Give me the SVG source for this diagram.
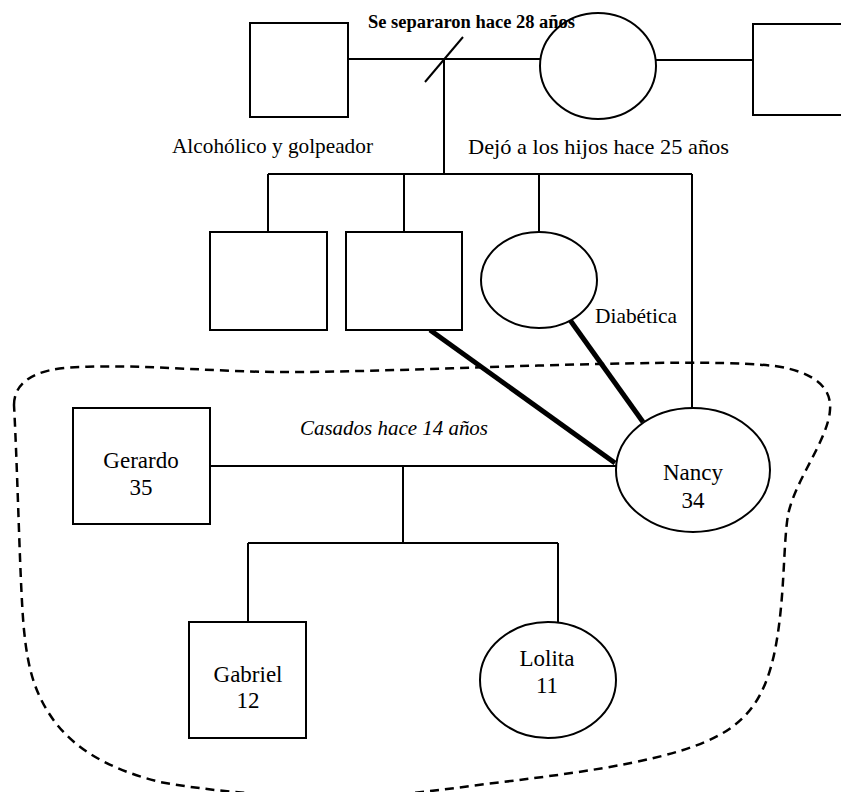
<svg xmlns="http://www.w3.org/2000/svg" width="841" height="792" viewBox="0 0 841 792">
<style>
  .shape { fill: #fff; stroke: #000; stroke-width: 2; }
  .line { fill: none; stroke: #000; stroke-width: 2; }
  .thick { fill: none; stroke: #000; stroke-width: 5; }
  .boundary { fill: none; stroke: #000; stroke-width: 2.5; stroke-dasharray: 9 6; }
  text { font-family: "Liberation Serif", "Times New Roman", serif; fill: #000; }
  .lbl { font-size: 21px; }
  .name { font-size: 23px; text-anchor: middle; }
</style>
<rect width="841" height="792" fill="#fff"/>

<g id="household">
  <path class="boundary" d="M 14 405 C 14 385, 30 368, 80 367 C 150 364, 220 373, 300 372 C 400 371, 500 366, 600 364 C 680 362, 740 362, 775 366 C 815 372, 832 388, 830 410 C 828 440, 795 480, 788 515 C 783 545, 785 600, 775 650 C 765 700, 745 725, 705 742 C 650 765, 560 775, 470 786 C 420 793, 370 798, 320 797 C 260 795, 210 791, 160 782 C 120 772, 80 755, 55 722 C 35 695, 28 670, 24 630 C 20 590, 18 480, 14 405 Z"/>
</g>

<g id="connectors">
  <line class="line" x1="348" y1="59" x2="541" y2="59"/>
  <line class="line" x1="425" y1="82" x2="463" y2="37"/>
  <line class="line" x1="656" y1="60" x2="753" y2="60"/>
  <line class="line" x1="444" y1="59" x2="444" y2="174"/>
  <line class="line" x1="268" y1="174" x2="692" y2="174"/>
  <line class="line" x1="268" y1="174" x2="268" y2="232"/>
  <line class="line" x1="404" y1="174" x2="404" y2="232"/>
  <line class="line" x1="539" y1="174" x2="539" y2="232"/>
  <line class="line" x1="692" y1="174" x2="692" y2="408"/>
  <line class="thick" x1="430" y1="330" x2="615" y2="463"/>
  <line class="thick" x1="570" y1="320" x2="643" y2="422"/>
  <line class="line" x1="210" y1="466" x2="616" y2="466"/>
  <line class="line" x1="403" y1="466" x2="403" y2="543"/>
  <line class="line" x1="248" y1="543" x2="558" y2="543"/>
  <line class="line" x1="248" y1="543" x2="248" y2="622"/>
  <line class="line" x1="558" y1="543" x2="558" y2="623"/>
</g>

<g id="grandfather">
  <rect class="shape" x="250" y="23" width="98" height="94"/>
</g>
<g id="grandmother">
  <ellipse class="shape" cx="598" cy="66" rx="58" ry="53"/>
</g>
<g id="grandmother-partner">
  <rect class="shape" x="753" y="24" width="110" height="91"/>
</g>
<g id="uncle1">
  <rect class="shape" x="210" y="232" width="117" height="98"/>
</g>
<g id="uncle2">
  <rect class="shape" x="346" y="232" width="116" height="98"/>
</g>
<g id="aunt">
  <ellipse class="shape" cx="539" cy="280" rx="58" ry="48"/>
</g>
<g id="gerardo">
  <rect class="shape" x="73" y="408" width="137" height="116"/>
  <text class="name" x="141" y="468">Gerardo</text>
  <text class="name" x="141" y="495">35</text>
</g>
<g id="nancy">
  <ellipse class="shape" cx="693" cy="470" rx="77" ry="62"/>
  <text class="name" x="693" y="480">Nancy</text>
  <text class="name" x="693" y="508">34</text>
</g>
<g id="gabriel">
  <rect class="shape" x="189" y="622" width="117" height="116"/>
  <text class="name" x="248" y="682">Gabriel</text>
  <text class="name" x="248" y="708">12</text>
</g>
<g id="lolita">
  <ellipse class="shape" cx="548" cy="680" rx="68" ry="58"/>
  <text class="name" x="547" y="666">Lolita</text>
  <text class="name" x="547" y="693">11</text>
</g>

<g id="labels">
  <text x="368" y="28" font-size="18" font-weight="bold" textLength="207" lengthAdjust="spacingAndGlyphs">Se separaron hace 28 años</text>
  <text class="lbl" x="172" y="153" textLength="201" lengthAdjust="spacingAndGlyphs">Alcohólico y golpeador</text>
  <text class="lbl" x="468" y="154" textLength="261" lengthAdjust="spacingAndGlyphs">Dejó a los hijos hace 25 años</text>
  <text class="lbl" x="595" y="323" textLength="82" lengthAdjust="spacingAndGlyphs">Diabética</text>
  <text class="lbl" x="300" y="435" font-style="italic" textLength="188" lengthAdjust="spacingAndGlyphs">Casados hace 14 años</text>
</g>
</svg>
